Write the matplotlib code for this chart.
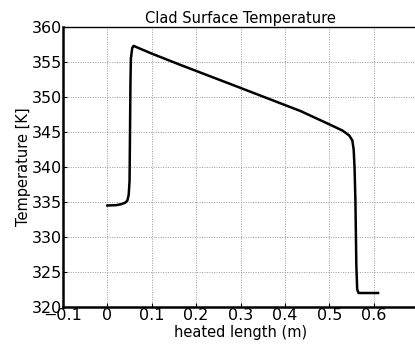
import matplotlib.pyplot as plt

# clad surface temperature along heated length
length_m = [0.0, 0.02, 0.032, 0.040, 0.045, 0.048, 0.050, 0.051, 0.052, 0.053, 0.056, 0.059,
            0.10, 0.164, 0.30, 0.435, 0.50, 0.53, 0.545, 0.552,
            0.555, 0.557, 0.559, 0.561, 0.563, 0.566, 0.58, 0.61]
temp_K = [334.5, 334.55, 334.7, 334.9, 335.2, 336.0, 338.0, 345.0, 352.0, 355.5, 357.0, 357.3,
          356.2, 354.6, 351.3, 348.0, 346.1, 345.2, 344.5, 343.8,
          342.5, 340.0, 335.0, 326.0, 322.5, 322.0, 322.0, 322.0]

xticks = [-0.1, 0, 0.1, 0.2, 0.3, 0.4, 0.5, 0.6]
xticklabels = ['\u22120.1', '0', '0.1', '0.2', '0.3', '0.4', '0.5', '0.6']
yticks = [320, 325, 330, 335, 340, 345, 350, 355, 360]

plt.rcParams['font.family'] = ['DejaVu Sans']

fig = plt.figure(figsize=(4.15, 3.56), dpi=100)
ax = fig.add_axes([63 / 415, 1 - 307 / 356, 355 / 415, 280 / 356])

ax.plot(length_m, temp_K, color='black', lw=1.8)

ax.set_xlim(-0.1, 0.7)
ax.set_ylim(320, 360)
ax.set_xticks(xticks)
ax.set_xticklabels(xticklabels)
ax.set_yticks(yticks)
ax.grid(True, color='#999999', linestyle=(0, (1, 1.5)), lw=0.7)
ax.tick_params(direction='in', length=3, labelsize=11.5, pad=1)
for side in ['left', 'bottom']:
    ax.spines[side].set_linewidth(1.8)
ax.spines['top'].set_linewidth(1.0)
ax.spines['right'].set_visible(False)

ax.set_xlabel('heated length (m)', fontsize=10.5, labelpad=1)
ax.set_ylabel('Temperature [K]', fontsize=10.5, labelpad=0)
ax.set_title('Clad Surface Temperature', fontsize=10.5, pad=3)

fig.savefig('out.png', dpi=100)
